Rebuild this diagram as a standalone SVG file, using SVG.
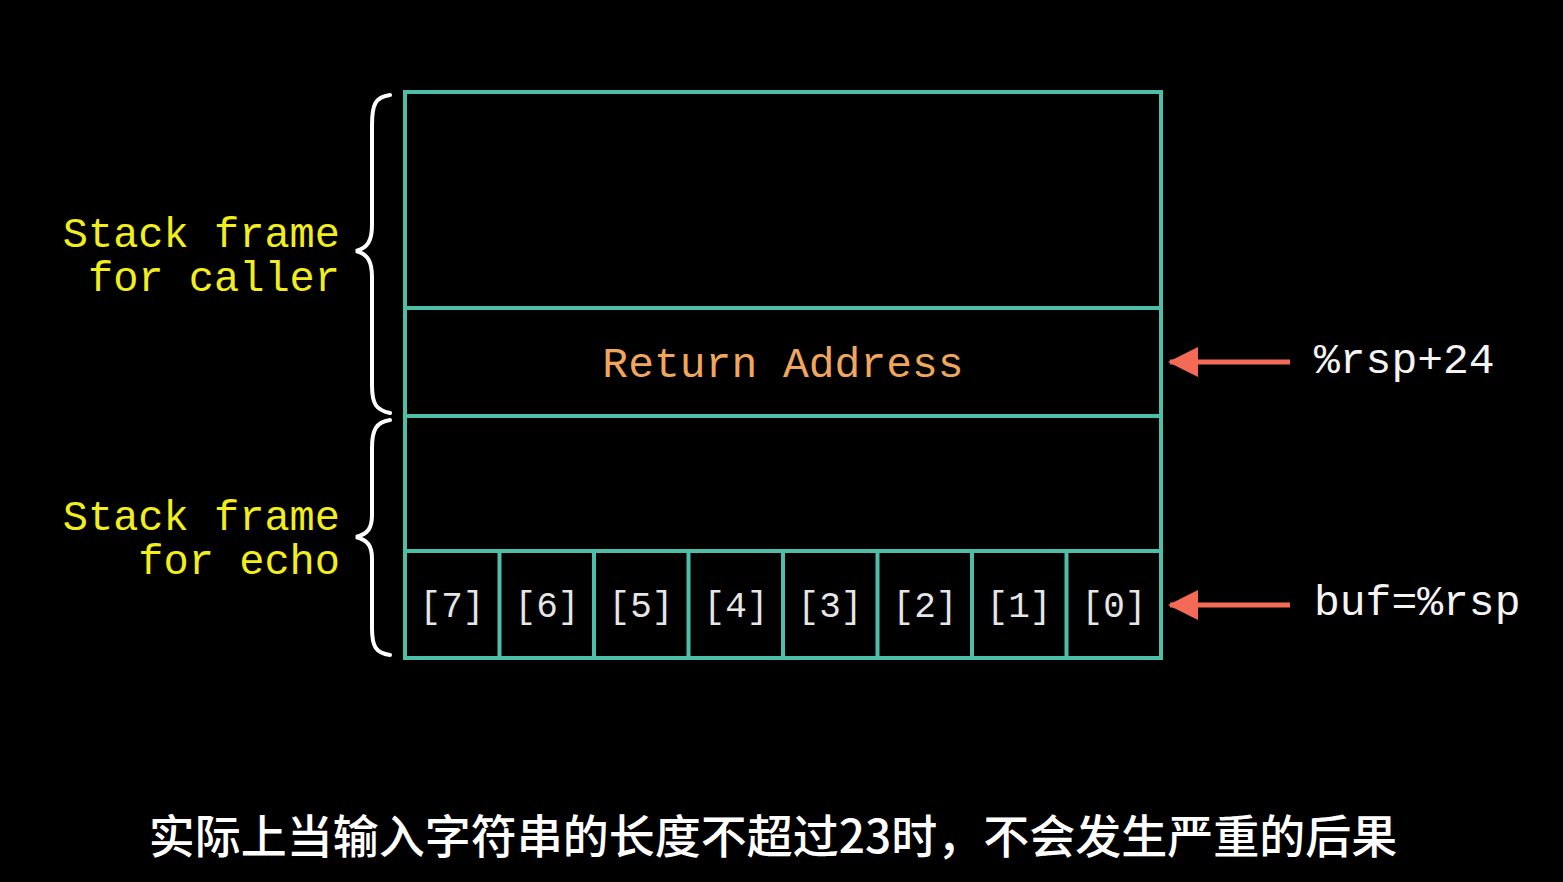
<svg xmlns="http://www.w3.org/2000/svg" width="1563" height="882" viewBox="0 0 1563 882">
<style>
.box{fill:none;stroke:#4dbfa8;stroke-width:4}
.mono{font-family:"Liberation Mono","DejaVu Sans Mono",monospace}
.lbl{fill:#f2ee1c;font-size:42px}
.cell{fill:#e6e6e6;font-size:36px;text-anchor:middle}
.ptr{fill:#f4f4f4;font-size:43px}
.brace{fill:none;stroke:#ffffff;stroke-width:4;stroke-linecap:round}
.arr{stroke:#f36b57;stroke-width:5}
</style>
<defs>
<marker id="ah" markerWidth="30" markerHeight="30" refX="28" refY="15" orient="auto" markerUnits="userSpaceOnUse" viewBox="0 0 30 30">
<path d="M0,0 L30,15 L0,30 Z" fill="#f36b57"/>
</marker>
</defs>
<rect width="1563" height="882" fill="#000"/>
<g id="frame">
<rect class="box" x="405" y="92" width="756" height="566"/>
<line class="box" x1="405" y1="308" x2="1161" y2="308"/>
<line class="box" x1="405" y1="416" x2="1161" y2="416"/>
<line class="box" x1="405" y1="551" x2="1161" y2="551"/>
</g>
<g id="return-address">
<text class="mono" x="783" y="377" font-size="43" fill="#f0a65c" text-anchor="middle">Return Address</text>
</g>
<g id="buf">
<line class="box" x1="499.5" y1="551" x2="499.5" y2="658"/>
<line class="box" x1="594" y1="551" x2="594" y2="658"/>
<line class="box" x1="688.5" y1="551" x2="688.5" y2="658"/>
<line class="box" x1="783" y1="551" x2="783" y2="658"/>
<line class="box" x1="877.5" y1="551" x2="877.5" y2="658"/>
<line class="box" x1="972" y1="551" x2="972" y2="658"/>
<line class="box" x1="1066.5" y1="551" x2="1066.5" y2="658"/>
<text class="mono cell" x="452" y="617">[7]</text>
<text class="mono cell" x="547" y="617">[6]</text>
<text class="mono cell" x="641" y="617">[5]</text>
<text class="mono cell" x="736" y="617">[4]</text>
<text class="mono cell" x="830" y="617">[3]</text>
<text class="mono cell" x="925" y="617">[2]</text>
<text class="mono cell" x="1019" y="617">[1]</text>
<text class="mono cell" x="1114" y="617">[0]</text>
</g>
<g id="caller-label">
<path class="brace" d="M390,95 C375,97 372,105 372,125 L372,225 C372,240 368,248 356,251 C368,254 372,262 372,277 L372,385 C372,404 376,410 390,413"/>
<text class="mono lbl" x="340" y="247" text-anchor="end">Stack frame</text>
<text class="mono lbl" x="340" y="291" text-anchor="end">for caller</text>
</g>
<g id="echo-label">
<path class="brace" d="M390,420 C376,422 372,430 372,448 L372,515 C372,528 368,534 356,537 C368,540 372,546 372,559 L372,628 C372,647 376,653 390,655"/>
<text class="mono lbl" x="340" y="530" text-anchor="end">Stack frame</text>
<text class="mono lbl" x="340" y="574" text-anchor="end">for echo</text>
</g>
<g id="connectors">
<line class="arr" x1="1290" y1="362" x2="1170" y2="362" marker-end="url(#ah)"/>
<line class="arr" x1="1290" y1="605" x2="1170" y2="605" marker-end="url(#ah)"/>
</g>
<g id="pointer-labels">
<text class="mono ptr" x="1314" y="373">%rsp+24</text>
<text class="mono ptr" x="1314" y="615">buf=%rsp</text>
</g>
<g id="subtitle">
<text x="773" y="853" font-family="'Noto Sans CJK SC','Noto Sans',sans-serif" font-size="46" font-weight="500" fill="#ffffff" text-anchor="middle">实际上当输入字符串的长度不超过23时，不会发生严重的后果</text>
</g>
</svg>
